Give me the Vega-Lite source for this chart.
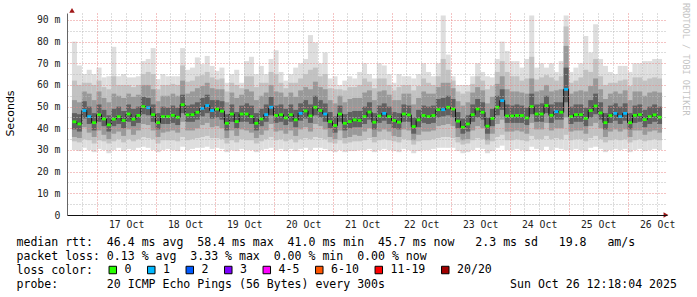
{
"$schema": "https://vega.github.io/schema/vega-lite/v6.json",
"width": 600, "height": 202,
"autosize": {"type": "none"},
"padding": {"left": 67, "top": 13, "right": 30, "bottom": 82},
"background": "white",
"config": {"view": {"stroke": null}, "font": "DejaVu Sans Mono",
 "axisY": {"tickSize": 0, "labelPadding": 7, "labelFont": "DejaVu Sans Mono", "labelFontSize": 9.8, "labelColor": "#222222", "domainColor": "#666666", "gridDash": [1, 2], "titleFont": "DejaVu Sans", "titleFontSize": 11, "titleFontWeight": "normal", "titleColor": "#000000", "titleAngle": -90, "titleAlign": "center", "titleBaseline": "middle"},
 "axisX": {"tickSize": 0, "labelPadding": 4, "labelFont": "DejaVu Sans Mono", "labelFontSize": 9.8, "labelColor": "#222222", "domainColor": "#111111", "gridDash": [1, 2], "titleFont": "DejaVu Sans Mono", "titleFontSize": 11.56, "titleFontWeight": "normal", "titleColor": "#000000", "titleAlign": "left", "titleAnchor": "start", "titleBaseline": "alphabetic", "titleLineHeight": 14}},
"title": {"text": "RRDTOOL / TOBI OETIKER", "orient": "right", "anchor": "start", "frame": "group", "font": "DejaVu Sans Mono", "fontSize": 8.5, "fontWeight": "normal", "color": "#c4c4c4", "offset": 5, "dx": -10},
"data": {"values": [
{"t":15,"mn":30,"lo1":34,"lo2":36,"lo3":39.5,"m":43,"hi3":47,"hi2":53,"hi1":62,"mx":80,"loss":"0"},
{"t":17,"mn":29.5,"lo1":33.5,"lo2":35.5,"lo3":38.5,"m":42,"hi3":46.5,"hi2":52,"hi1":60,"mx":69,"loss":"0"},
{"t":19,"mn":31,"lo1":35,"lo2":40.5,"lo3":44.5,"m":48.2,"hi3":52.5,"hi2":57,"hi1":61,"mx":65,"loss":"1"},
{"t":21,"mn":30,"lo1":34.5,"lo2":38,"lo3":42,"m":45.4,"hi3":50,"hi2":56,"hi1":61,"mx":67,"loss":"1"},
{"t":23,"mn":29,"lo1":33,"lo2":36,"lo3":39,"m":42.6,"hi3":47,"hi2":53,"hi1":60,"mx":65,"loss":"0"},
{"t":25,"mn":30.5,"lo1":34.5,"lo2":39,"lo3":43,"m":46.3,"hi3":51,"hi2":57,"hi1":62,"mx":68,"loss":"0"},
{"t":27,"mn":30,"lo1":34,"lo2":37,"lo3":41,"m":44.3,"hi3":48.5,"hi2":54,"hi1":59,"mx":63.5,"loss":"0"},
{"t":29,"mn":28.5,"lo1":33,"lo2":35,"lo3":38.5,"m":41.6,"hi3":46,"hi2":52,"hi1":58,"mx":64,"loss":"0"},
{"t":31,"mn":30,"lo1":34,"lo2":37.5,"lo3":41,"m":44.2,"hi3":49,"hi2":56,"hi1":64,"mx":77.6,"loss":"0"},
{"t":33,"mn":31,"lo1":35,"lo2":38.5,"lo3":42,"m":45.4,"hi3":50,"hi2":55,"hi1":60,"mx":64,"loss":"0"},
{"t":35,"mn":29.5,"lo1":33.5,"lo2":36.5,"lo3":40,"m":43.6,"hi3":48,"hi2":54,"hi1":60,"mx":65,"loss":"0"},
{"t":37,"mn":30.5,"lo1":35,"lo2":39.5,"lo3":43,"m":46.6,"hi3":51,"hi2":56,"hi1":60,"mx":63.5,"loss":"0"},
{"t":39,"mn":30,"lo1":34,"lo2":37,"lo3":41,"m":44.2,"hi3":49,"hi2":54.5,"hi1":59,"mx":63.5,"loss":"0"},
{"t":41,"mn":31,"lo1":35,"lo2":39,"lo3":42.5,"m":45.9,"hi3":50,"hi2":55.5,"hi1":60,"mx":64,"loss":"0"},
{"t":43,"mn":31.5,"lo1":36,"lo2":42,"lo3":46.5,"m":50,"hi3":54.5,"hi2":60,"hi1":65,"mx":71,"loss":"0"},
{"t":45,"mn":31,"lo1":35.5,"lo2":41.5,"lo3":46,"m":49.5,"hi3":54,"hi2":60,"hi1":66,"mx":72,"loss":"1"},
{"t":47,"mn":30,"lo1":35,"lo2":39,"lo3":43,"m":46.3,"hi3":51,"hi2":58,"hi1":65,"mx":77,"loss":"0"},
{"t":49,"mn":29,"lo1":33,"lo2":36,"lo3":39.5,"m":42.6,"hi3":47,"hi2":52.5,"hi1":58,"mx":62.7,"loss":"0"},
{"t":51,"mn":30,"lo1":34.5,"lo2":38,"lo3":42,"m":45.4,"hi3":50,"hi2":55,"hi1":60,"mx":65,"loss":"0"},
{"t":53,"mn":30.5,"lo1":34.5,"lo2":38.5,"lo3":42,"m":45.4,"hi3":49.5,"hi2":55,"hi1":60,"mx":64,"loss":"0"},
{"t":55,"mn":30,"lo1":34.5,"lo2":39,"lo3":42.5,"m":46,"hi3":50.5,"hi2":56,"hi1":60.5,"mx":64,"loss":"0"},
{"t":57,"mn":29.5,"lo1":34,"lo2":38,"lo3":41.5,"m":45.1,"hi3":49.5,"hi2":55,"hi1":60,"mx":64,"loss":"0"},
{"t":59,"mn":31.5,"lo1":36,"lo2":43,"lo3":47,"m":50.9,"hi3":55.5,"hi2":62,"hi1":69,"mx":77,"loss":"0"},
{"t":61,"mn":30,"lo1":34.5,"lo2":39,"lo3":43,"m":46.2,"hi3":50.5,"hi2":56,"hi1":61.5,"mx":67,"loss":"0"},
{"t":63,"mn":30.5,"lo1":35,"lo2":39,"lo3":43,"m":46.3,"hi3":51,"hi2":57,"hi1":62,"mx":68,"loss":"0"},
{"t":65,"mn":31,"lo1":35.5,"lo2":40,"lo3":44,"m":47.4,"hi3":52,"hi2":58.5,"hi1":64,"mx":72.7,"loss":"0"},
{"t":67,"mn":31,"lo1":36,"lo2":41.5,"lo3":45.5,"m":49.2,"hi3":54,"hi2":59.5,"hi1":64.5,"mx":69.6,"loss":"1"},
{"t":69,"mn":31.5,"lo1":36.5,"lo2":42.5,"lo3":47,"m":50.5,"hi3":55.5,"hi2":61,"hi1":66,"mx":73.4,"loss":"1"},
{"t":71,"mn":30.5,"lo1":35.5,"lo2":40.5,"lo3":44.5,"m":48.2,"hi3":53,"hi2":58.5,"hi1":63.5,"mx":68.8,"loss":"1"},
{"t":73,"mn":31,"lo1":35.5,"lo2":41,"lo3":45,"m":48.9,"hi3":53,"hi2":58,"hi1":62.5,"mx":66.5,"loss":"0"},
{"t":75,"mn":30.5,"lo1":35,"lo2":40,"lo3":44,"m":47.9,"hi3":52.5,"hi2":58,"hi1":63,"mx":68,"loss":"0"},
{"t":77,"mn":29,"lo1":33,"lo2":35.5,"lo3":39,"m":42.3,"hi3":46.5,"hi2":52,"hi1":57,"mx":61,"loss":"0"},
{"t":79,"mn":30,"lo1":34.5,"lo2":39,"lo3":43,"m":46.6,"hi3":51,"hi2":56.5,"hi1":61,"mx":65,"loss":"0"},
{"t":81,"mn":29.5,"lo1":33.5,"lo2":36.5,"lo3":40,"m":43.1,"hi3":47.5,"hi2":54,"hi1":60,"mx":67,"loss":"0"},
{"t":83,"mn":30.5,"lo1":35,"lo2":39.5,"lo3":43,"m":46.6,"hi3":50.5,"hi2":55.5,"hi1":58.5,"mx":61,"loss":"0"},
{"t":85,"mn":30,"lo1":34.5,"lo2":39,"lo3":43,"m":46.6,"hi3":51.5,"hi2":58,"hi1":64,"mx":71,"loss":"0"},
{"t":87,"mn":30,"lo1":34.5,"lo2":38,"lo3":42,"m":45.4,"hi3":50.5,"hi2":57,"hi1":64,"mx":73,"loss":"0"},
{"t":89,"mn":29,"lo1":33,"lo2":35.5,"lo3":39,"m":42.3,"hi3":47,"hi2":53,"hi1":59,"mx":65,"loss":"0"},
{"t":91,"mn":30,"lo1":34,"lo2":37,"lo3":41,"m":44.3,"hi3":49,"hi2":55,"hi1":61,"mx":68.8,"loss":"0"},
{"t":93,"mn":30.5,"lo1":35,"lo2":39,"lo3":43,"m":46.3,"hi3":51,"hi2":56.5,"hi1":61,"mx":65,"loss":"1"},
{"t":95,"mn":31,"lo1":36,"lo2":42,"lo3":46,"m":49.7,"hi3":54.5,"hi2":60,"hi1":66,"mx":72,"loss":"1"},
{"t":97,"mn":30,"lo1":34.5,"lo2":38.5,"lo3":42.5,"m":45.9,"hi3":50.5,"hi2":57,"hi1":65,"mx":76,"loss":"0"},
{"t":99,"mn":30.5,"lo1":35,"lo2":39,"lo3":43,"m":46.3,"hi3":51,"hi2":56.5,"hi1":61,"mx":66,"loss":"0"},
{"t":101,"mn":29.5,"lo1":34,"lo2":37.5,"lo3":41.5,"m":44.8,"hi3":49,"hi2":54.5,"hi1":58.5,"mx":62,"loss":"0"},
{"t":103,"mn":30.5,"lo1":35,"lo2":39,"lo3":43,"m":46.3,"hi3":51,"hi2":56.5,"hi1":61,"mx":65,"loss":"0"},
{"t":105,"mn":29.5,"lo1":33.5,"lo2":36.5,"lo3":40.5,"m":43.9,"hi3":48.5,"hi2":54.5,"hi1":61,"mx":68,"loss":"0"},
{"t":107,"mn":30.5,"lo1":35,"lo2":39.5,"lo3":43.5,"m":46.9,"hi3":51.5,"hi2":57.5,"hi1":63,"mx":70,"loss":"1"},
{"t":109,"mn":31,"lo1":35.5,"lo2":40.5,"lo3":44.5,"m":48,"hi3":53,"hi2":59,"hi1":65,"mx":72,"loss":"0"},
{"t":111,"mn":30,"lo1":35,"lo2":38.5,"lo3":42.5,"m":45.7,"hi3":51,"hi2":58,"hi1":67,"mx":83,"loss":"0"},
{"t":113,"mn":31,"lo1":36,"lo2":42,"lo3":46,"m":49.7,"hi3":55,"hi2":61.5,"hi1":68,"mx":79.6,"loss":"0"},
{"t":115,"mn":31,"lo1":35.5,"lo2":41,"lo3":45,"m":48.2,"hi3":53,"hi2":59,"hi1":64,"mx":70,"loss":"0"},
{"t":117,"mn":30.5,"lo1":35,"lo2":39.5,"lo3":43,"m":46.6,"hi3":51.5,"hi2":58,"hi1":65,"mx":75,"loss":"1"},
{"t":119,"mn":29.5,"lo1":33.5,"lo2":36,"lo3":40,"m":43.1,"hi3":47.5,"hi2":53,"hi1":58.5,"mx":63,"loss":"0"},
{"t":121,"mn":29,"lo1":33,"lo2":35,"lo3":38,"m":41.3,"hi3":45.5,"hi2":51.5,"hi1":58,"mx":64,"loss":"0"},
{"t":123,"mn":30,"lo1":34.5,"lo2":39,"lo3":43,"m":46.6,"hi3":50.5,"hi2":55,"hi1":58,"mx":60,"loss":"0"},
{"t":125,"mn":29,"lo1":33,"lo2":35.5,"lo3":39,"m":42.3,"hi3":46.5,"hi2":52,"hi1":57.5,"mx":62,"loss":"0"},
{"t":127,"mn":29.5,"lo1":33.5,"lo2":36,"lo3":40,"m":43.1,"hi3":47.5,"hi2":53.5,"hi1":59,"mx":64,"loss":"0"},
{"t":129,"mn":29.5,"lo1":34,"lo2":37,"lo3":40.5,"m":43.9,"hi3":48,"hi2":54,"hi1":59,"mx":63,"loss":"0"},
{"t":131,"mn":30,"lo1":34,"lo2":36.5,"lo3":40.5,"m":43.6,"hi3":48,"hi2":54,"hi1":60,"mx":66,"loss":"0"},
{"t":133,"mn":30,"lo1":34.5,"lo2":38.5,"lo3":42,"m":45.4,"hi3":50,"hi2":56.5,"hi1":63,"mx":70,"loss":"0"},
{"t":135,"mn":30.5,"lo1":35.5,"lo2":40,"lo3":44,"m":47.5,"hi3":52,"hi2":57.5,"hi1":61.5,"mx":65,"loss":"0"},
{"t":137,"mn":29,"lo1":33.5,"lo2":36,"lo3":39.5,"m":42.8,"hi3":47,"hi2":53,"hi1":58.5,"mx":63,"loss":"0"},
{"t":139,"mn":30,"lo1":34.5,"lo2":38.5,"lo3":42.5,"m":45.7,"hi3":50.5,"hi2":57,"hi1":63,"mx":70,"loss":"0"},
{"t":141,"mn":30.5,"lo1":35,"lo2":39.5,"lo3":43.5,"m":46.9,"hi3":51.5,"hi2":57.5,"hi1":63,"mx":69,"loss":"1"},
{"t":143,"mn":30,"lo1":34.5,"lo2":38.5,"lo3":42,"m":45.4,"hi3":50,"hi2":55.5,"hi1":60,"mx":65,"loss":"0"},
{"t":145,"mn":29.5,"lo1":34,"lo2":36.5,"lo3":40,"m":43.6,"hi3":47.5,"hi2":53,"hi1":57.5,"mx":61,"loss":"0"},
{"t":147,"mn":29,"lo1":33.5,"lo2":36,"lo3":39.5,"m":42.8,"hi3":47,"hi2":53,"hi1":59,"mx":65,"loss":"0"},
{"t":149,"mn":30.5,"lo1":35,"lo2":39.5,"lo3":43,"m":46.6,"hi3":51,"hi2":56,"hi1":60,"mx":64,"loss":"0"},
{"t":151,"mn":30,"lo1":34.5,"lo2":39,"lo3":43,"m":46.2,"hi3":50.5,"hi2":56,"hi1":60,"mx":64,"loss":"0"},
{"t":153,"mn":28.5,"lo1":32.5,"lo2":34.5,"lo3":37.5,"m":40.8,"hi3":45,"hi2":51,"hi1":57.5,"mx":63,"loss":"0"},
{"t":155,"mn":29.5,"lo1":34,"lo2":37,"lo3":40.5,"m":43.9,"hi3":48.5,"hi2":54,"hi1":59.5,"mx":65,"loss":"0"},
{"t":157,"mn":30,"lo1":34.5,"lo2":38.5,"lo3":42.5,"m":45.9,"hi3":50.5,"hi2":57,"hi1":63,"mx":70,"loss":"0"},
{"t":159,"mn":30,"lo1":34.5,"lo2":38.5,"lo3":42,"m":45.4,"hi3":50,"hi2":56,"hi1":61,"mx":66,"loss":"0"},
{"t":161,"mn":30.5,"lo1":35,"lo2":39,"lo3":42.5,"m":45.9,"hi3":50.5,"hi2":56,"hi1":60,"mx":64,"loss":"0"},
{"t":163,"mn":31,"lo1":35.5,"lo2":41,"lo3":45,"m":48.6,"hi3":53.5,"hi2":59,"hi1":64,"mx":70,"loss":"0"},
{"t":165,"mn":31,"lo1":36,"lo2":41.5,"lo3":45.5,"m":48.6,"hi3":54,"hi2":61,"hi1":72,"mx":92,"loss":"1"},
{"t":167,"mn":31,"lo1":36,"lo2":42,"lo3":46,"m":49.7,"hi3":55,"hi2":61,"hi1":67,"mx":74,"loss":"0"},
{"t":169,"mn":31,"lo1":35.5,"lo2":41,"lo3":45,"m":48.9,"hi3":53.5,"hi2":58.5,"hi1":62,"mx":64,"loss":"0"},
{"t":171,"mn":29.5,"lo1":33.5,"lo2":36,"lo3":40,"m":43.3,"hi3":47.5,"hi2":52.5,"hi1":57,"mx":60,"loss":"0"},
{"t":173,"mn":28.5,"lo1":32.5,"lo2":34.5,"lo3":37.5,"m":40.5,"hi3":44.5,"hi2":50.5,"hi1":56,"mx":60,"loss":"0"},
{"t":175,"mn":29,"lo1":33,"lo2":35,"lo3":38.5,"m":42,"hi3":46,"hi2":52,"hi1":57,"mx":60,"loss":"0"},
{"t":177,"mn":30,"lo1":34.5,"lo2":39,"lo3":43,"m":46.3,"hi3":51,"hi2":56.5,"hi1":60.5,"mx":64,"loss":"0"},
{"t":179,"mn":31,"lo1":35.5,"lo2":41,"lo3":45,"m":48.9,"hi3":53.5,"hi2":59,"hi1":64,"mx":70,"loss":"0"},
{"t":181,"mn":30.5,"lo1":35,"lo2":40,"lo3":44,"m":47.4,"hi3":52,"hi2":57.5,"hi1":62,"mx":66,"loss":"0"},
{"t":183,"mn":28.5,"lo1":32.5,"lo2":34.5,"lo3":37.5,"m":41,"hi3":45,"hi2":51.5,"hi1":58,"mx":64,"loss":"0"},
{"t":185,"mn":29.5,"lo1":34,"lo2":37.5,"lo3":41,"m":44.6,"hi3":49,"hi2":54.5,"hi1":59.5,"mx":63.5,"loss":"0"},
{"t":187,"mn":31,"lo1":36,"lo2":42,"lo3":46,"m":49.7,"hi3":55,"hi2":60.5,"hi1":66,"mx":72,"loss":"0"},
{"t":189,"mn":32,"lo1":37,"lo2":44,"lo3":48.5,"m":52.8,"hi3":58,"hi2":64,"hi1":71,"mx":80,"loss":"1"},
{"t":191,"mn":30,"lo1":34.5,"lo2":38.5,"lo3":42.5,"m":45.7,"hi3":51,"hi2":58,"hi1":66,"mx":75.7,"loss":"0"},
{"t":193,"mn":30,"lo1":34.5,"lo2":38.5,"lo3":42.5,"m":45.7,"hi3":50.5,"hi2":57,"hi1":64,"mx":71,"loss":"0"},
{"t":195,"mn":30.5,"lo1":35,"lo2":39,"lo3":42.5,"m":45.9,"hi3":51,"hi2":57,"hi1":64,"mx":71,"loss":"0"},
{"t":197,"mn":30,"lo1":34.5,"lo2":38.5,"lo3":42.5,"m":45.9,"hi3":50.5,"hi2":56.5,"hi1":62,"mx":68,"loss":"0"},
{"t":199,"mn":29.5,"lo1":34,"lo2":37.5,"lo3":41.5,"m":44.8,"hi3":49.5,"hi2":56,"hi1":63,"mx":72,"loss":"0"},
{"t":201,"mn":31.5,"lo1":36.5,"lo2":42.5,"lo3":46.5,"m":50,"hi3":56,"hi2":63,"hi1":73,"mx":92,"loss":"0"},
{"t":203,"mn":30.5,"lo1":35,"lo2":39.5,"lo3":43,"m":46.6,"hi3":51,"hi2":57,"hi1":62.5,"mx":68,"loss":"0"},
{"t":205,"mn":30,"lo1":35,"lo2":39.5,"lo3":43,"m":46.6,"hi3":51.5,"hi2":57.5,"hi1":63.5,"mx":70,"loss":"0"},
{"t":207,"mn":31.5,"lo1":36.5,"lo2":42.5,"lo3":47,"m":50.5,"hi3":55,"hi2":60,"hi1":64.5,"mx":68,"loss":"0"},
{"t":209,"mn":30,"lo1":35,"lo2":39,"lo3":42.5,"m":46,"hi3":51,"hi2":57,"hi1":63.5,"mx":70,"loss":"0"},
{"t":211,"mn":31,"lo1":35.5,"lo2":40,"lo3":44,"m":47.7,"hi3":52,"hi2":57.5,"hi1":62,"mx":66,"loss":"1"},
{"t":213,"mn":30.5,"lo1":35,"lo2":40,"lo3":44,"m":47.4,"hi3":52,"hi2":58,"hi1":64,"mx":71,"loss":"0"},
{"t":215,"mn":30,"lo1":37,"lo2":45,"lo3":52,"m":58,"hi3":68,"hi2":78,"hi1":87,"mx":92,"loss":"1"},
{"t":217,"mn":30,"lo1":34.5,"lo2":38.5,"lo3":42,"m":45.4,"hi3":50,"hi2":56,"hi1":61,"mx":66,"loss":"0"},
{"t":219,"mn":30.5,"lo1":35,"lo2":39,"lo3":43,"m":46.3,"hi3":51,"hi2":57,"hi1":62,"mx":68,"loss":"0"},
{"t":221,"mn":30,"lo1":35,"lo2":39,"lo3":43,"m":46.3,"hi3":51,"hi2":57.5,"hi1":63.5,"mx":70,"loss":"0"},
{"t":223,"mn":29.5,"lo1":34,"lo2":37.5,"lo3":41,"m":44.6,"hi3":49.5,"hi2":57,"hi1":67,"mx":82.6,"loss":"0"},
{"t":225,"mn":31,"lo1":35.5,"lo2":41,"lo3":45,"m":48.2,"hi3":53,"hi2":59.5,"hi1":66,"mx":75,"loss":"0"},
{"t":227,"mn":31.5,"lo1":36.5,"lo2":42.5,"lo3":46.5,"m":50.3,"hi3":56,"hi2":63,"hi1":72,"mx":88,"loss":"0"},
{"t":229,"mn":30.5,"lo1":35,"lo2":40,"lo3":44,"m":47.1,"hi3":52,"hi2":58,"hi1":64,"mx":72,"loss":"0"},
{"t":231,"mn":29,"lo1":33.5,"lo2":36,"lo3":39.5,"m":42.6,"hi3":47,"hi2":53.5,"hi1":60,"mx":68.8,"loss":"0"},
{"t":233,"mn":30,"lo1":34.5,"lo2":38.5,"lo3":42.5,"m":45.9,"hi3":50.5,"hi2":56,"hi1":61,"mx":66,"loss":"0"},
{"t":235,"mn":30.5,"lo1":35,"lo2":39.5,"lo3":43.5,"m":46.9,"hi3":51.5,"hi2":57,"hi1":61,"mx":65,"loss":"1"},
{"t":237,"mn":30,"lo1":34.5,"lo2":38.5,"lo3":42,"m":45.4,"hi3":50,"hi2":56,"hi1":62,"mx":68.8,"loss":"1"},
{"t":239,"mn":30.5,"lo1":35,"lo2":39.5,"lo3":43.5,"m":46.9,"hi3":51.5,"hi2":57.5,"hi1":62.5,"mx":68.8,"loss":"1"},
{"t":241,"mn":29,"lo1":33.5,"lo2":36,"lo3":39.5,"m":42.6,"hi3":47,"hi2":53,"hi1":59.5,"mx":66,"loss":"0"},
{"t":243,"mn":30,"lo1":34.5,"lo2":39,"lo3":42.5,"m":46,"hi3":50.5,"hi2":57,"hi1":63.5,"mx":70,"loss":"0"},
{"t":245,"mn":30.5,"lo1":35,"lo2":39,"lo3":43,"m":46.3,"hi3":51,"hi2":57,"hi1":63.5,"mx":70,"loss":"0"},
{"t":247,"mn":29.5,"lo1":34,"lo2":37,"lo3":40.5,"m":44,"hi3":48.5,"hi2":55,"hi1":62,"mx":71,"loss":"0"},
{"t":249,"mn":30,"lo1":34.5,"lo2":38.5,"lo3":42,"m":45.4,"hi3":50,"hi2":56.5,"hi1":63,"mx":71,"loss":"0"},
{"t":251,"mn":30.5,"lo1":35,"lo2":39,"lo3":43,"m":46.2,"hi3":51,"hi2":57,"hi1":63.5,"mx":72,"loss":"0"},
{"t":253,"mn":30,"lo1":34.5,"lo2":38,"lo3":42,"m":45.1,"hi3":50,"hi2":56.5,"hi1":63,"mx":72,"loss":"0"}
]},
"encoding": {
 "x": {"field": "t", "type": "quantitative", "scale": {"domain": [14, 254], "nice": false, "zero": false},
  "axis": {"values": [18,24,30,36,42,48,54,60,66,72,78,84,90,96,102,108,114,120,126,132,138,144,150,156,162,168,174,180,186,192,198,204,210,216,222,228,234,240,246,252],
   "labelExpr": "datum.value % 24 === 12 ? (floor(datum.value / 24) + 16) + ' Oct' : ''",
   "labelOverlap": false, "labelFlush": false,
   "grid": true, "gridColor": {"condition": {"test": "datum.value % 24 === 0", "value": "#e88888"}, "value": "#bbbbbb"},
   "title": ["median rtt:\u00a0\u00a046.4 ms avg\u00a0\u00a058.4 ms max\u00a0\u00a041.0 ms min\u00a0\u00a045.7 ms now\u00a0\u00a0\u00a02.3 ms sd\u00a0\u00a0\u00a019.8\u00a0\u00a0\u00a0am/s", "packet loss: 0.13 % avg\u00a0\u00a03.33 % max\u00a0\u00a00.00 % min\u00a0\u00a00.00 % now", "loss color:", "probe:\u00a0\u00a0\u00a0\u00a0\u00a0\u00a0\u00a020 ICMP Echo Pings (56 Bytes) every 300s\u00a0\u00a0\u00a0\u00a0\u00a0\u00a0\u00a0\u00a0\u00a0\u00a0\u00a0\u00a0\u00a0\u00a0\u00a0\u00a0\u00a0\u00a0Sun Oct 26 12:18:04 2025"],
   "titleX": -51, "titleY": 30, "zindex": 1}}
},
"layer": [
{"mark": {"type": "bar", "width": 5, "color": "#dedede"},
 "encoding": {
  "y": {"field": "mn", "type": "quantitative", "scale": {"domain": [0, 93.2], "nice": false},
   "axis": {"values": [0,5,10,15,20,25,30,35,40,45,50,55,60,65,70,75,80,85,90], "tickCount": 19, "labelExpr": "datum.value % 10 !== 0 ? '' : (datum.value === 0 ? '0' : datum.value + ' m')", "labelOverlap": false, "grid": true, "gridColor": {"condition": {"test": "datum.value % 10 === 0", "value": "#e88888"}, "value": "#bbbbbb"}, "title": "Seconds", "titleX": -57, "titleY": 100, "zindex": 1}},
  "y2": {"field": "mx"}}},
{"mark": {"type": "bar", "width": 5, "color": "#c2c2c2"},
 "encoding": {
  "y": {"field": "lo1", "type": "quantitative", "scale": {"domain": [0, 93.2], "nice": false},
   "axis": {"values": [0,5,10,15,20,25,30,35,40,45,50,55,60,65,70,75,80,85,90], "tickCount": 19, "labelExpr": "datum.value % 10 !== 0 ? '' : (datum.value === 0 ? '0' : datum.value + ' m')", "labelOverlap": false, "grid": true, "gridColor": {"condition": {"test": "datum.value % 10 === 0", "value": "#e88888"}, "value": "#bbbbbb"}, "title": "Seconds", "titleX": -57, "titleY": 100, "zindex": 1}},
  "y2": {"field": "hi1"}}},
{"mark": {"type": "bar", "width": 5, "color": "#999999"},
 "encoding": {
  "y": {"field": "lo2", "type": "quantitative", "scale": {"domain": [0, 93.2], "nice": false},
   "axis": {"values": [0,5,10,15,20,25,30,35,40,45,50,55,60,65,70,75,80,85,90], "tickCount": 19, "labelExpr": "datum.value % 10 !== 0 ? '' : (datum.value === 0 ? '0' : datum.value + ' m')", "labelOverlap": false, "grid": true, "gridColor": {"condition": {"test": "datum.value % 10 === 0", "value": "#e88888"}, "value": "#bbbbbb"}, "title": "Seconds", "titleX": -57, "titleY": 100, "zindex": 1}},
  "y2": {"field": "hi2"}}},
{"mark": {"type": "bar", "width": 5, "color": "#606060"},
 "encoding": {
  "y": {"field": "lo3", "type": "quantitative", "scale": {"domain": [0, 93.2], "nice": false},
   "axis": {"values": [0,5,10,15,20,25,30,35,40,45,50,55,60,65,70,75,80,85,90], "tickCount": 19, "labelExpr": "datum.value % 10 !== 0 ? '' : (datum.value === 0 ? '0' : datum.value + ' m')", "labelOverlap": false, "grid": true, "gridColor": {"condition": {"test": "datum.value % 10 === 0", "value": "#e88888"}, "value": "#bbbbbb"}, "title": "Seconds", "titleX": -57, "titleY": 100, "zindex": 1}},
  "y2": {"field": "hi3"}}},
{"mark": {"type": "line", "interpolate": "step", "color": "#111111", "strokeWidth": 1},
 "encoding": {
  "y": {"field": "m", "type": "quantitative", "scale": {"domain": [0, 93.2], "nice": false},
   "axis": {"values": [0,5,10,15,20,25,30,35,40,45,50,55,60,65,70,75,80,85,90], "tickCount": 19, "labelExpr": "datum.value % 10 !== 0 ? '' : (datum.value === 0 ? '0' : datum.value + ' m')", "labelOverlap": false, "grid": true, "gridColor": {"condition": {"test": "datum.value % 10 === 0", "value": "#e88888"}, "value": "#bbbbbb"}, "title": "Seconds", "titleX": -57, "titleY": 100, "zindex": 1}}}},
{"mark": {"type": "point", "shape": "M-1,-0.7H1V0.7H-1Z", "size": 16, "filled": true, "opacity": 1, "strokeWidth": 0},
 "encoding": {
  "y": {"field": "m", "type": "quantitative", "scale": {"domain": [0, 93.2], "nice": false},
   "axis": {"values": [0,5,10,15,20,25,30,35,40,45,50,55,60,65,70,75,80,85,90], "tickCount": 19, "labelExpr": "datum.value % 10 !== 0 ? '' : (datum.value === 0 ? '0' : datum.value + ' m')", "labelOverlap": false, "grid": true, "gridColor": {"condition": {"test": "datum.value % 10 === 0", "value": "#e88888"}, "value": "#bbbbbb"}, "title": "Seconds", "titleX": -57, "titleY": 100, "zindex": 1}},
  "color": {"field": "loss", "type": "nominal",
   "scale": {"domain": ["0","1","2","3","4-5","6-10","11-19","20/20"], "range": ["#26ff00","#00b8ff","#0059ff","#7e00ff","#ff00ff","#ff5500","#ff0000","#a10000"]},
   "legend": {"orient": "none", "legendX": 40, "legendY": 251, "direction": "horizontal", "columns": 8, "title": null,
    "labelFont": "DejaVu Sans Mono", "labelFontSize": 11.56, "labelColor": "#000000", "labelOffset": 6,
    "symbolType": "square", "symbolSize": 56, "symbolStrokeColor": "#000000", "symbolStrokeWidth": 1, "symbolOpacity": 1,
    "columnPadding": 13.5, "padding": 0}}}},
{"data": {"values": [{"t": 14, "m": 94.4}]},
 "mark": {"type": "point", "shape": "triangle-up", "size": 30, "filled": true, "opacity": 1, "color": "#a01818"},
 "encoding": {
  "y": {"field": "m", "type": "quantitative", "scale": {"domain": [0, 93.2], "nice": false},
   "axis": {"values": [0,5,10,15,20,25,30,35,40,45,50,55,60,65,70,75,80,85,90], "tickCount": 19, "labelExpr": "datum.value % 10 !== 0 ? '' : (datum.value === 0 ? '0' : datum.value + ' m')", "labelOverlap": false, "grid": true, "gridColor": {"condition": {"test": "datum.value % 10 === 0", "value": "#e88888"}, "value": "#bbbbbb"}, "title": "Seconds", "titleX": -57, "titleY": 100, "zindex": 1}}}},
{"data": {"values": [{"t": 255.6, "m": 0}]},
 "mark": {"type": "point", "shape": "triangle-right", "size": 30, "filled": true, "opacity": 1, "color": "#a01818"},
 "encoding": {
  "y": {"field": "m", "type": "quantitative", "scale": {"domain": [0, 93.2], "nice": false},
   "axis": {"values": [0,5,10,15,20,25,30,35,40,45,50,55,60,65,70,75,80,85,90], "tickCount": 19, "labelExpr": "datum.value % 10 !== 0 ? '' : (datum.value === 0 ? '0' : datum.value + ' m')", "labelOverlap": false, "grid": true, "gridColor": {"condition": {"test": "datum.value % 10 === 0", "value": "#e88888"}, "value": "#bbbbbb"}, "title": "Seconds", "titleX": -57, "titleY": 100, "zindex": 1}}}}
]
}
